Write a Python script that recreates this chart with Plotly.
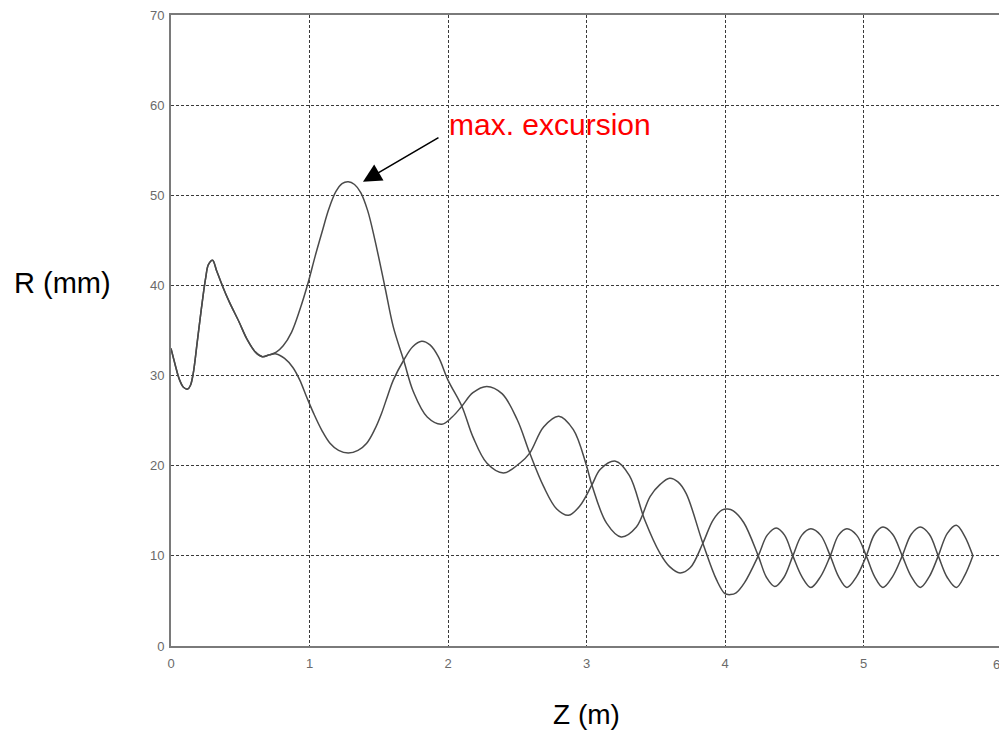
import plotly.graph_objects as go

# Shared beginning of both envelopes (Z in m, R in mm)
z_shared = [0.00, 0.03, 0.06, 0.09, 0.12, 0.14, 0.16, 0.19, 0.22, 0.25, 0.27, 0.30,
            0.33, 0.37, 0.42, 0.49, 0.55, 0.61, 0.66]
r_shared = [33.0, 31.2, 29.6, 28.7, 28.5, 28.9, 30.2, 33.8, 37.5, 40.8, 42.3, 42.8,
            41.6, 40.0, 38.2, 36.0, 34.0, 32.6, 32.1]

# Upper branch (reaches max. excursion)
z_upper = [0.71, 0.76, 0.81, 0.87, 0.93, 0.99, 1.04, 1.09, 1.14, 1.19, 1.235, 1.28,
           1.325, 1.37, 1.42, 1.47, 1.545, 1.605, 1.68, 1.75, 1.85, 1.955, 2.03, 2.10,
           2.18, 2.28, 2.39, 2.50, 2.59, 2.69, 2.785, 2.87, 2.95, 3.04, 3.10, 3.21,
           3.31, 3.42, 3.53, 3.60, 3.675, 3.75, 3.84, 3.915, 3.98, 4.02, 4.06, 4.135,
           4.24, 4.30, 4.36, 4.425, 4.49, 4.555, 4.62, 4.69, 4.76, 4.82, 4.88, 4.95,
           5.02, 5.08, 5.14, 5.21, 5.28, 5.345, 5.41, 5.475, 5.54, 5.605, 5.67, 5.73,
           5.79]
r_upper = [32.3, 32.6, 33.3, 34.8, 37.3, 40.3, 43.2, 45.9, 48.5, 50.4, 51.3, 51.5,
           51.2, 50.3, 48.3, 45.2, 39.8, 35.4, 31.7, 28.2, 25.4, 24.6, 25.4, 26.6,
           28.1, 28.8, 28.0, 25.1, 21.4, 17.7, 15.2, 14.5, 15.5, 17.9, 19.6, 20.5,
           18.9, 14.0, 10.3, 8.8, 8.1, 8.7, 11.4, 14.0, 15.1, 15.2, 15.0, 13.7,
           10.0, 7.6, 6.6, 7.6, 10.0, 12.3, 13.0, 12.3, 10.0, 7.7, 6.5, 7.7,
           10.0, 12.4, 13.2, 12.4, 10.0, 7.7, 6.5, 7.7, 10.0, 12.5, 13.4, 12.2,
           10.0]

# Lower branch
z_lower = [0.71, 0.76, 0.82, 0.88, 0.93, 0.98, 1.03, 1.09, 1.148, 1.21, 1.28, 1.35,
           1.413, 1.47, 1.52, 1.565, 1.605, 1.68, 1.745, 1.81, 1.87, 1.93, 2.00, 2.10,
           2.18, 2.28, 2.40, 2.52, 2.59, 2.69, 2.80, 2.905, 3.00, 3.04, 3.146, 3.25,
           3.36, 3.46, 3.53, 3.60, 3.66, 3.72, 3.84, 3.94, 4.00, 4.04, 4.08, 4.14,
           4.24, 4.305, 4.37, 4.43, 4.49, 4.555, 4.62, 4.69, 4.76, 4.82, 4.88, 4.95,
           5.02, 5.08, 5.14, 5.21, 5.28, 5.345, 5.41, 5.475, 5.54, 5.605, 5.67, 5.73,
           5.79]
r_lower = [32.3, 32.4, 31.9, 30.9, 29.5, 27.6, 25.8, 23.9, 22.5, 21.7, 21.4, 21.7,
           22.5, 24.0, 25.8, 27.8, 29.5, 31.7, 33.2, 33.8, 33.4, 32.1, 29.5, 26.6,
           23.2, 20.3, 19.2, 20.3, 21.4, 24.3, 25.5, 24.0, 20.0, 17.8, 13.6, 12.1,
           13.2, 16.6, 17.9, 18.6, 18.2, 16.9, 11.4, 7.3, 5.8, 5.7, 5.9, 7.0,
           10.0, 12.3, 13.1, 12.3, 10.0, 7.7, 6.5, 7.7, 10.0, 12.3, 13.0, 12.3,
           10.0, 7.7, 6.5, 7.7, 10.0, 12.4, 13.2, 12.4, 10.0, 7.6, 6.5, 7.8,
           10.0]

x_ticks = [0, 1, 2, 3, 4, 5, 6]
y_ticks = [0, 10, 20, 30, 40, 50, 60, 70]

line_style = dict(color="#4a4a4a", width=1.5, shape="spline", smoothing=1.0)
tick_font = dict(family="Liberation Sans", size=13, color="#6a6a6a")

fig = go.Figure()
fig.add_trace(go.Scatter(x=z_shared + z_upper, y=r_shared + r_upper, mode="lines",
                         line=line_style, showlegend=False))
fig.add_trace(go.Scatter(x=z_shared + z_lower, y=r_shared + r_lower, mode="lines",
                         line=line_style, showlegend=False))

axis_common = dict(showgrid=True, gridcolor="#3a3a3a", gridwidth=1, griddash="3px,2px",
                   showline=True, mirror=True, linecolor="#7a7a7a", linewidth=2,
                   zeroline=False, ticks="", automargin=False, ticklabeloverflow="allow",
                   tickfont=tick_font)

# last x label ("6") sits on the frame edge and is drawn as a paper-anchored annotation
fig.update_xaxes(range=[0, 6], tickvals=x_ticks,
                 ticktext=[str(v) if v != x_ticks[-1] else "" for v in x_ticks],
                 ticklabelstandoff=4, **axis_common)
fig.update_yaxes(range=[0, 70], tickvals=y_ticks, ticktext=[str(v) for v in y_ticks],
                 ticklabelstandoff=2, **axis_common)

fig.add_annotation(x=1.0, y=0, xref="paper", yref="paper", text=str(x_ticks[-1]),
                   showarrow=False, xanchor="right", yanchor="middle", yshift=-18,
                   font=tick_font)

fig.add_annotation(x=1.386, y=51.5, ax=1.942, ay=56.5, xref="x", yref="y", axref="x", ayref="y",
                   text="", showarrow=True, arrowhead=2, arrowsize=2.3, arrowwidth=1.6, arrowcolor="black")
fig.add_annotation(x=1.993, y=57.8, xref="x", yref="y", text="max. excursion", showarrow=False,
                   xanchor="left", yanchor="middle",
                   font=dict(family="Liberation Sans", size=30, color="red"))
fig.add_annotation(x=-0.191, y=0.575, xref="paper", yref="paper", text="R (mm)", showarrow=False,
                   xanchor="left", yanchor="middle",
                   font=dict(family="Liberation Sans", size=29, color="black"))
fig.add_annotation(x=0.4994, y=-0.108, xref="paper", yref="paper", text="Z (m)", showarrow=False,
                   xanchor="center", yanchor="middle",
                   font=dict(family="Liberation Sans", size=28, color="black"))

# page body has an 8px margin, so the figure is sized to sit at the reference position
fig.update_layout(width=999, height=722, margin=dict(l=163, r=5, t=7, b=84),
                  plot_bgcolor="white", paper_bgcolor="white")

fig.write_html("out.html")
